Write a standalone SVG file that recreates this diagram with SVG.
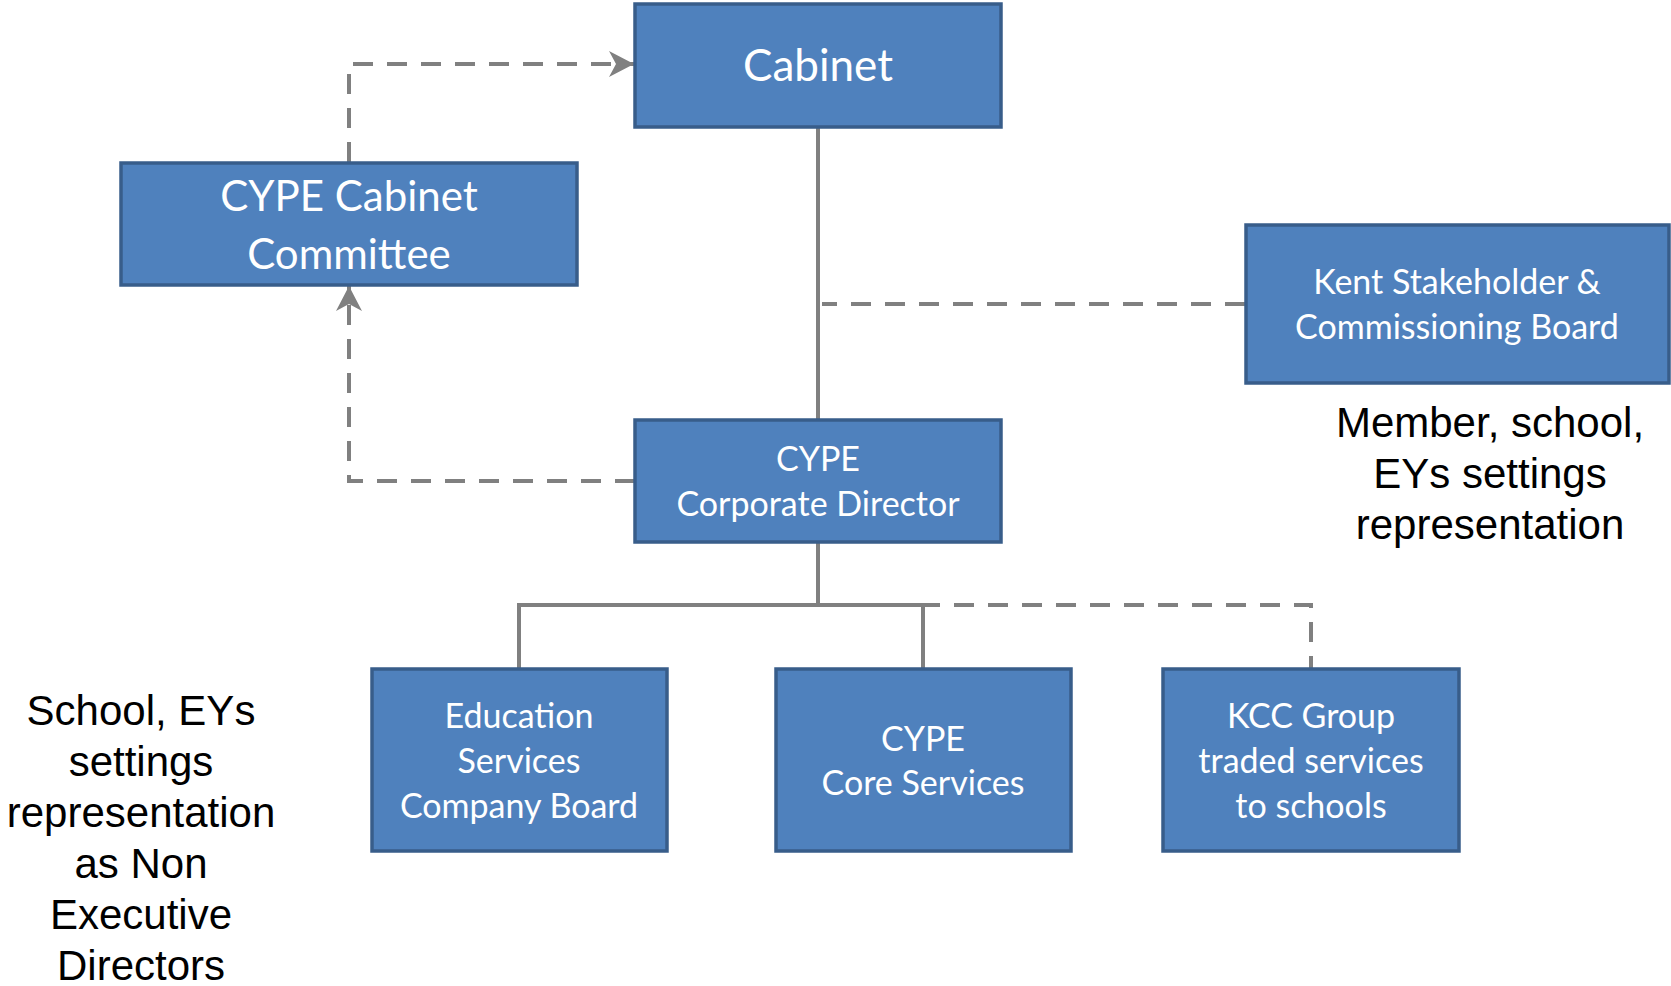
<svg xmlns="http://www.w3.org/2000/svg" width="1671" height="986" viewBox="0 0 1671 986">
<style>
.box{fill:#4F81BD;stroke:#385D8A;stroke-width:3.5}
.bt{fill:#FFFFFF;font-family:Lato,"Open Sans",sans-serif;text-anchor:middle}
.big{font-size:42px}
.mid{font-size:34px}
.note{fill:#000000;font-family:"Liberation Sans",Arial,sans-serif;font-size:42px;text-anchor:middle}
.solid{fill:none;stroke:#808080;stroke-width:4}
.dash{fill:none;stroke:#808080;stroke-width:4;stroke-dasharray:20 14}
</style>
<defs>
<marker id="arr" markerUnits="userSpaceOnUse" markerWidth="30" markerHeight="30" refX="25" refY="13" orient="auto">
<path d="M0,0 L25,13 L0,26 L7,13 Z" fill="#808080"/>
</marker>
</defs>
<rect width="1671" height="986" fill="#FFFFFF"/>
<g id="connectors">
<path class="solid" d="M818,127 V419"/>
<path class="dash" d="M1245,304 H822"/>
<path class="dash" d="M349,162 V64 H634" marker-end="url(#arr)"/>
<path class="dash" d="M635,481 H349 V286" marker-end="url(#arr)"/>
<path class="solid" d="M818,543 V605"/>
<path class="dash" d="M818,605 H1311 V668"/>
<path class="solid" d="M519,668 V605 H923 V668"/>
</g>
<g id="cabinet">
<rect class="box" x="635" y="4" width="366" height="123"/>
<text class="bt" style="font-size:44px" x="818" y="81">Cabinet</text>
</g>
<g id="cype-cabinet-committee">
<rect class="box" x="121" y="163" width="456" height="122"/>
<text class="bt big" x="349" y="211">CYPE Cabinet</text>
<text class="bt big" x="349" y="269">Committee</text>
</g>
<g id="kent-board">
<rect class="box" x="1246" y="225" width="423" height="158"/>
<text class="bt mid" x="1457" y="294">Kent Stakeholder &amp;</text>
<text class="bt mid" x="1457" y="339">Commissioning Board</text>
</g>
<g id="corporate-director">
<rect class="box" x="635" y="420" width="366" height="122"/>
<text class="bt mid" x="818" y="471">CYPE</text>
<text class="bt mid" x="818" y="516">Corporate Director</text>
</g>
<g id="education-services">
<rect class="box" x="372" y="669" width="295" height="182"/>
<text class="bt mid" x="519" y="728">Education</text>
<text class="bt mid" x="519" y="773">Services</text>
<text class="bt mid" x="519" y="818">Company Board</text>
</g>
<g id="core-services">
<rect class="box" x="776" y="669" width="295" height="182"/>
<text class="bt mid" x="923" y="751">CYPE</text>
<text class="bt mid" x="923" y="795">Core Services</text>
</g>
<g id="kcc-group">
<rect class="box" x="1163" y="669" width="296" height="182"/>
<text class="bt mid" x="1311" y="728">KCC Group</text>
<text class="bt mid" x="1311" y="773">traded services</text>
<text class="bt mid" x="1311" y="818">to schools</text>
</g>
<g id="note-right">
<text class="note" x="1490" y="437">Member, school,</text>
<text class="note" x="1490" y="488">EYs settings</text>
<text class="note" x="1490" y="539">representation</text>
</g>
<g id="note-left">
<text class="note" x="141" y="725">School, EYs</text>
<text class="note" x="141" y="776">settings</text>
<text class="note" x="141" y="827">representation</text>
<text class="note" x="141" y="878">as Non</text>
<text class="note" x="141" y="929">Executive</text>
<text class="note" x="141" y="980">Directors</text>
</g>
</svg>
